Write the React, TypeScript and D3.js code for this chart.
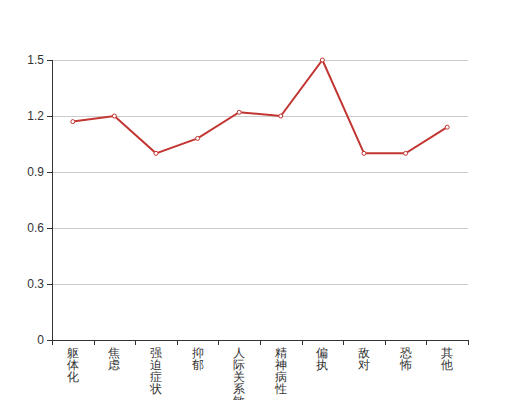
import React, { useEffect, useRef } from "react";
import * as d3 from "d3";

const categories = ["躯体化", "焦虑", "强迫症状", "抑郁", "人际关系敏感", "精神病性", "偏执", "敌对", "恐怖", "其他"];
const values = [1.17, 1.2, 1.0, 1.08, 1.22, 1.2, 1.5, 1.0, 1.0, 1.14];
const yTicks = [0, 0.3, 0.6, 0.9, 1.2, 1.5];

const W = 520;
const H = 400;
const left = 52;
const right = 468;
const top = 60;
const bottom = 340;
const lineColor = "#c23531";
const font = "sans-serif";

export default function App() {
  const ref = useRef<SVGSVGElement>(null);
  useEffect(() => {
    const svg = d3.select(ref.current);
    svg.selectAll("*").remove();
    const x = d3.scaleBand<string>().domain(categories).range([left, right]);
    const y = d3.scaleLinear().domain([0, 1.5]).range([bottom, top]);

    // gridlines
    svg.append("g")
      .selectAll("line")
      .data(yTicks.filter((t) => t > 0))
      .join("line")
      .attr("x1", left)
      .attr("x2", right)
      .attr("y1", (d) => Math.round(y(d)) + 0.5)
      .attr("y2", (d) => Math.round(y(d)) + 0.5)
      .attr("stroke", "#ccc")
      .attr("stroke-width", 1);

    // y axis
    const ya = svg.append("g");
    ya.append("line")
      .attr("x1", left + 0.5).attr("x2", left + 0.5)
      .attr("y1", top).attr("y2", bottom)
      .attr("stroke", "#333");
    ya.selectAll("line.t")
      .data(yTicks)
      .join("line")
      .attr("class", "t")
      .attr("x1", left - 5).attr("x2", left)
      .attr("y1", (d) => Math.round(y(d)) + 0.5)
      .attr("y2", (d) => Math.round(y(d)) + 0.5)
      .attr("stroke", "#333");
    ya.selectAll("text")
      .data(yTicks)
      .join("text")
      .attr("x", left - 8)
      .attr("y", (d) => y(d))
      .attr("dy", "0.35em")
      .attr("text-anchor", "end")
      .attr("font-size", 12)
      .attr("font-family", font)
      .attr("fill", "#333")
      .text((d) => String(d));

    // x axis
    const xa = svg.append("g");
    xa.append("line")
      .attr("x1", left).attr("x2", right)
      .attr("y1", bottom + 0.5).attr("y2", bottom + 0.5)
      .attr("stroke", "#333");
    const bounds = categories.map((c) => x(c)!).concat([right]);
    xa.selectAll("line.t")
      .data(bounds)
      .join("line")
      .attr("class", "t")
      .attr("x1", (d) => Math.round(d) + 0.5).attr("x2", (d) => Math.round(d) + 0.5)
      .attr("y1", bottom).attr("y2", bottom + 5)
      .attr("stroke", "#333");
    const labels = xa.selectAll("text")
      .data(categories)
      .join("text")
      .attr("text-anchor", "middle")
      .attr("font-size", 12)
      .attr("font-family", font)
      .attr("fill", "#333");
    labels.each(function (c) {
      const t = d3.select(this);
      const cx = x(c)! + x.bandwidth() / 2;
      Array.from(c).forEach((ch, i) => {
        t.append("tspan")
          .attr("x", cx)
          .attr("y", 357 + i * 12)
          .text(ch);
      });
    });

    // line
    const line = d3.line<number>()
      .x((_, i) => x(categories[i])! + x.bandwidth() / 2)
      .y((d) => y(d));
    svg.append("path")
      .datum(values)
      .attr("d", line)
      .attr("fill", "none")
      .attr("stroke", lineColor)
      .attr("stroke-width", 2);

    svg.append("g")
      .selectAll("circle")
      .data(values)
      .join("circle")
      .attr("cx", (_, i) => x(categories[i])! + x.bandwidth() / 2)
      .attr("cy", (d) => y(d))
      .attr("r", 2)
      .attr("fill", "#fff")
      .attr("stroke", lineColor)
      .attr("stroke-width", 1);
  }, []);

  return (
    <div style={{ position: "absolute", left: 0, top: 0 }}>
      <svg ref={ref} width={W} height={H} style={{ display: "block" }} />
    </div>
  );
}
